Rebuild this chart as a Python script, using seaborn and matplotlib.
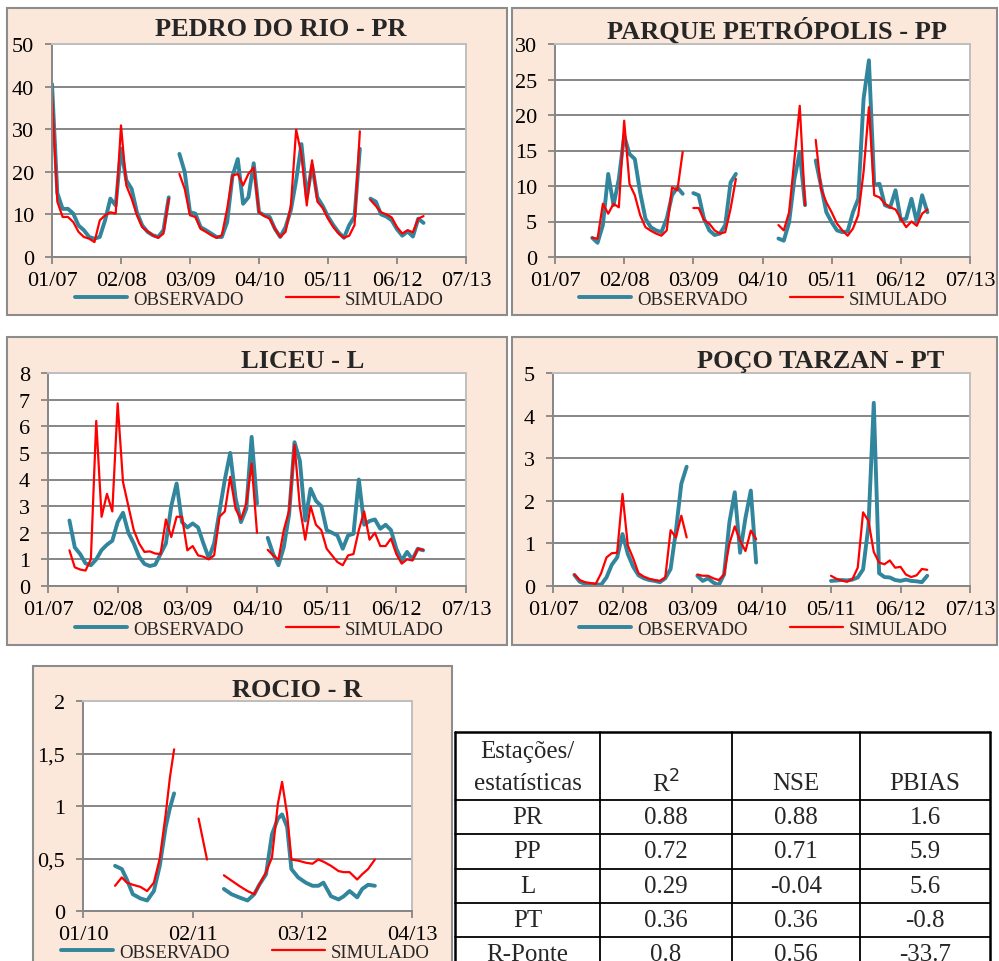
import numpy as np
import pandas as pd
import matplotlib
matplotlib.use("Agg")
import matplotlib.pyplot as plt
import seaborn as sns
from matplotlib.lines import Line2D
from matplotlib.patches import Rectangle

sns.set_theme(style="white")
plt.rcParams["font.family"] = ["Liberation Serif", "DejaVu Serif"]

nan = np.nan

# eixo x: meses contados a partir de 01/2007 (rocio: a partir de 01/2010)
meses = np.arange(0, 71)
ticks_x = [0, 13, 26, 39, 52, 65, 78]
rotulos_x = ["01/07", "02/08", "03/09", "04/10", "05/11", "06/12", "07/13"]

pr_obs = [40.6, 15.0, 11.3, 11.3, 10.2, 7.4, 6.3, 4.7, 4.3, 4.7, 8.6, 13.7, 12.1, 25.4, 18.0, 16.0, 10.5, 7.4,
          5.9, 5.1, 4.7, 6.3, 14.0, nan, 24.2, 20.0, 10.5, 10.2, 7.0, 6.3, 5.5, 4.7, 4.7, 8.2, 19.0, 23.0, 12.5,
          14.0, 22.0, 10.5, 9.8, 9.4, 6.6, 4.7, 7.0, 11.0, 18.0, 26.5, 14.0, 21.5, 14.0, 12.0, 9.5, 7.5, 5.8,
          4.5, 7.5, 9.5, 25.4, nan, 13.7, 13.0, 10.0, 9.5, 8.6, 6.5, 5.0, 6.0, 4.8, 9.0, 8.0]
pr_sim = [38.3, 13.0, 9.4, 9.4, 8.2, 5.9, 4.7, 4.3, 3.5, 8.6, 9.8, 10.5, 10.2, 30.9, 16.8, 13.7, 9.8, 7.0,
          6.0, 5.1, 4.5, 5.5, 13.7, nan, 19.5, 16.0, 9.8, 9.4, 6.6, 5.9, 5.1, 4.5, 5.1, 11.3, 19.1, 19.5, 16.8,
          19.5, 21.0, 10.5, 9.6, 9.0, 6.6, 4.7, 5.9, 12.0, 29.9, 24.0, 12.1, 22.7, 13.0, 11.5, 9.0, 7.0, 5.5,
          4.5, 5.0, 7.5, 29.5, nan, 13.4, 12.0, 10.5, 10.0, 9.3, 7.0, 5.5, 6.3, 5.8, 9.0, 9.6]

pp_obs = [nan, nan, nan, nan, nan, nan, nan, 2.7, 2.0, 4.5, 11.7, 7.3, 11.0, 17.1, 14.5, 13.8, 9.1, 5.4,
          4.2, 3.75, 3.5, 5.4, 8.7, 9.8, 8.9, nan, 9.0, 8.7, 5.4, 3.75, 3.1, 3.3, 4.5, 10.5, 11.7, nan, nan,
          nan, nan, nan, nan, nan, 2.6, 2.3, 4.9, 11.0, 14.8, 7.3, nan, 13.6, 10.0, 6.3, 4.9, 3.75, 3.5, 3.6,
          6.3, 8.2, 22.3, 27.7, 10.2, 10.3, 7.3, 7.0, 9.4, 5.2, 5.4, 8.2, 4.9, 8.7, 6.3]
pp_sim = [nan, nan, nan, nan, nan, nan, nan, 2.7, 2.6, 7.5, 6.1, 7.5, 7.0, 19.2, 10.3, 8.7, 5.9, 4.2,
          3.7, 3.3, 3.0, 3.75, 9.8, 9.4, 14.8, nan, 6.9, 6.9, 5.2, 4.7, 3.75, 3.3, 3.5, 6.8, 11.0, nan, nan,
          nan, nan, nan, nan, nan, 4.5, 3.75, 6.3, 13.8, 21.3, 7.3, nan, 16.5, 9.6, 7.7, 6.3, 4.7, 3.75, 3.0,
          4.0, 5.9, 12.0, 21.1, 8.7, 8.4, 7.5, 7.0, 6.7, 5.4, 4.2, 5.0, 4.4, 6.1, 6.7]

l_obs = [nan, nan, nan, nan, 2.46, 1.45, 1.2, 0.85, 0.78, 1.0, 1.35, 1.55, 1.7, 2.4, 2.75, 2.0, 1.6, 1.1,
         0.83, 0.75, 0.8, 1.2, 1.6, 3.0, 3.85, 2.4, 2.2, 2.35, 2.2, 1.6, 1.05, 1.6, 2.8, 4.0, 5.0, 3.3, 2.4,
         2.9, 5.6, 3.1, nan, 1.81, 1.21, 0.78, 1.46, 2.7, 5.4, 4.7, 2.46, 3.65, 3.2, 3.0, 2.1, 2.0, 1.9, 1.4,
         1.9, 1.96, 4.0, 2.3, 2.44, 2.5, 2.15, 2.3, 2.1, 1.4, 0.96, 1.28, 1.0, 1.4, 1.34]
l_sim = [nan, nan, nan, nan, 1.34, 0.7, 0.62, 0.58, 1.0, 6.2, 2.6, 3.46, 2.8, 6.86, 3.9, 3.0, 2.1, 1.6,
         1.28, 1.3, 1.22, 1.2, 2.5, 1.84, 2.6, 2.6, 1.34, 1.5, 1.15, 1.1, 1.0, 1.15, 2.6, 2.8, 4.1, 2.9, 2.5,
         3.1, 4.6, 2.0, nan, 1.36, 1.15, 0.99, 2.1, 2.84, 5.3, 2.96, 1.74, 3.0, 2.3, 2.1, 1.4, 1.15, 0.9, 0.78,
         1.15, 1.2, 2.1, 2.8, 1.74, 2.0, 1.5, 1.5, 1.78, 1.2, 0.84, 1.0, 0.96, 1.4, 1.36]

pt_obs = [nan, nan, nan, nan, 0.26, 0.1, 0.05, 0.04, 0.04, 0.03, 0.2, 0.5, 0.67, 1.22, 0.75, 0.45, 0.25,
          0.18, 0.14, 0.12, 0.09, 0.18, 0.4, 1.3, 2.4, 2.8, nan, 0.24, 0.12, 0.18, 0.08, 0.02, 0.27, 1.5, 2.2,
          0.78, 1.6, 2.24, 0.55, nan, nan, nan, nan, nan, nan, nan, nan, nan, nan, nan, nan, nan, 0.12, 0.13,
          0.14, 0.13, 0.15, 0.2, 0.39, 1.4, 4.3, 0.3, 0.21, 0.2, 0.14, 0.12, 0.15, 0.12, 0.11, 0.09, 0.24]
pt_sim = [nan, nan, nan, nan, 0.27, 0.14, 0.09, 0.07, 0.05, 0.3, 0.67, 0.77, 0.78, 2.16, 0.95, 0.65, 0.3,
          0.22, 0.17, 0.14, 0.12, 0.2, 1.31, 1.14, 1.65, 1.14, nan, 0.27, 0.24, 0.24, 0.18, 0.14, 0.27, 1.0,
          1.4, 1.06, 0.82, 1.3, 1.1, nan, nan, nan, nan, nan, nan, nan, nan, nan, nan, nan, nan, nan, 0.24,
          0.17, 0.13, 0.1, 0.16, 0.43, 1.73, 1.53, 0.8, 0.55, 0.51, 0.6, 0.43, 0.45, 0.27, 0.21, 0.25, 0.4, 0.38]

r_meses = [3.8, 4.6, 5.2, 5.9, 6.8, 7.6, 8.4, 9.1, 9.8, 10.3, 10.8, 12.2, 13.7, 14.7, 15.7, 16.7, 17.6,
           18.5, 19.5, 20.3, 20.9, 21.7, 22.4, 23.1, 23.6, 24.2, 24.7, 25.5, 26.4, 27.2, 27.9, 28.5, 29.4,
           30.3, 30.9, 31.6, 32.5, 33.1, 33.8, 34.6]
r_obs = [0.43, 0.4, 0.3, 0.16, 0.12, 0.1, 0.19, 0.43, 0.8, 0.98, 1.12, nan, nan, nan, nan, 0.21, 0.16,
         0.13, 0.1, 0.16, 0.25, 0.35, 0.73, 0.88, 0.92, 0.8, 0.4, 0.32, 0.27, 0.24, 0.24, 0.27, 0.14, 0.11,
         0.14, 0.19, 0.13, 0.21, 0.25, 0.24]
r_sim = [0.24, 0.32, 0.27, 0.25, 0.23, 0.19, 0.27, 0.5, 0.92, 1.27, 1.54, nan, 0.88, 0.49, nan, 0.34, 0.29,
         0.24, 0.19, 0.16, 0.25, 0.37, 0.51, 1.02, 1.23, 0.92, 0.49, 0.48, 0.46, 0.45, 0.49, 0.47, 0.43, 0.38,
         0.37, 0.37, 0.3, 0.35, 0.4, 0.49]
r_ticks_x = [0, 13, 26, 39]
r_rotulos_x = ["01/10", "02/11", "03/12", "04/13"]

# tabela de estatisticas
estacoes = ["PR", "PP", "L", "PT", "R-Ponte"]
r2 = [0.88, 0.72, 0.29, 0.36, 0.8]
nse = [0.88, 0.71, -0.04, 0.36, 0.56]
pbias = [1.6, 5.9, 5.6, -0.8, -33.7]

azul = "#31859C"
vermelho = "#FF0000"
pessego = "#FCE8DA"
cinza = "#868686"

W, H = 999, 962
fig = plt.figure(figsize=(W / 100, H / 100), dpi=100)

fundo = fig.add_axes([0, 0, 1, 1], zorder=-1)
fundo.set_xlim(0, W)
fundo.set_ylim(H, 0)
fundo.axis("off")


def px(x0, y0, x1, y1):
    return [x0 / W, 1 - y1 / H, (x1 - x0) / W, (y1 - y0) / H]


paineis = [
    dict(titulo="PEDRO DO RIO - PR", x=meses, obs=pr_obs, sim=pr_sim, ymax=50, passo=10,
         moldura=(7, 9, 507, 316), area=(52, 45, 466, 258), tit=(281, 30), leg=(259, 300)),
    dict(titulo="PARQUE PETRÓPOLIS - PP", x=meses, obs=pp_obs, sim=pp_sim, ymax=30, passo=5,
         moldura=(512, 9, 997, 316), area=(555, 45, 970, 258), tit=(777, 31), leg=(763, 300)),
    dict(titulo="LICEU - L", x=meses, obs=l_obs, sim=l_sim, ymax=8, passo=1,
         moldura=(7, 338, 507, 646), area=(48, 374, 466, 587), tit=(303, 362), leg=(259, 630)),
    dict(titulo="POÇO TARZAN - PT", x=meses, obs=pt_obs, sim=pt_sim, ymax=5, passo=1,
         moldura=(512, 338, 997, 646), area=(553, 374, 970, 587), tit=(821, 362), leg=(763, 630)),
    dict(titulo="ROCIO - R", x=r_meses, obs=r_obs, sim=r_sim, ymax=2, passo=0.5,
         moldura=(33, 667, 452, 990), area=(83, 702, 412, 912), tit=(297, 691), leg=(245, 953)),
]

handles = [Line2D([], [], color=azul, lw=2.8, solid_capstyle="round"),
           Line2D([], [], color=vermelho, lw=1.6)]

for p in paineis:
    x0, y0, x1, y1 = p["moldura"]
    fundo.add_patch(Rectangle((x0, y0), x1 - x0, y1 - y0, facecolor=pessego, edgecolor="#8C8C8C", lw=1.5))

    ax = fig.add_axes(px(*p["area"]))
    ax.set_facecolor("white")
    for serie, cor, lw in ((p["obs"], azul, 2.8), (p["sim"], vermelho, 1.6)):
        df = pd.DataFrame({"mes": p["x"], "valor": serie})
        df["trecho"] = df["valor"].isna().cumsum()
        df = df.dropna()
        sns.lineplot(data=df, x="mes", y="valor", units="trecho", estimator=None, color=cor, lw=lw,
                     solid_joinstyle="round", solid_capstyle="round", ax=ax)

    if p["titulo"].startswith("ROCIO"):
        ax.set_xlim(0, 39)
        ax.set_xticks(r_ticks_x, r_rotulos_x)
        yt = np.arange(0, p["ymax"] + 0.01, p["passo"])
        ax.set_yticks(yt, [f"{v:g}".replace(".", ",") for v in yt])
    else:
        ax.set_xlim(0, 78)
        ax.set_xticks(ticks_x, rotulos_x)
        ax.set_yticks(np.arange(0, p["ymax"] + 0.01, p["passo"]))
    ax.set_ylim(0, p["ymax"])
    ax.set_xlabel("")
    ax.set_ylabel("")
    ax.grid(axis="y", color=cinza, lw=1.4)
    ax.grid(axis="x", visible=False)
    ax.set_axisbelow(True)
    for lado in ("left", "bottom"):
        ax.spines[lado].set_color(cinza)
        ax.spines[lado].set_linewidth(1.4)
    for lado in ("top", "right"):
        ax.spines[lado].set_color("#BFBFBF")
        ax.spines[lado].set_linewidth(1.4)
    ax.tick_params(axis="both", which="major", bottom=True, left=True, direction="out", length=5,
                   width=1.3, color=cinza, labelsize=16, labelcolor="black")
    ax.tick_params(axis="y", pad=8)
    ax.tick_params(axis="x", pad=5)

    tx, ty = p["tit"]
    fig.text(tx / W, 1 - ty / H, p["titulo"], ha="center", va="center", fontsize=19, fontweight="bold")

    lx, ly = p["leg"]
    ax.legend(handles, ["OBSERVADO", "SIMULADO"], loc="center", bbox_to_anchor=(lx / W, 1 - ly / H),
              bbox_transform=fig.transFigure, ncol=2, frameon=False, fontsize=13.5, handlelength=2.8,
              handletextpad=0.3, columnspacing=2.3, borderpad=0, borderaxespad=0)

# tabela
colunas = [455, 600, 732, 860, 990]
linhas = [733, 801, 835, 870, 904, 938, 972]
for xc in colunas:
    fundo.plot([xc, xc], [linhas[0], linhas[-1]], color="black", lw=1.8 if xc in (455, 990) else 1.3)
for yl in linhas:
    fundo.plot([colunas[0], colunas[-1]], [yl, yl], color="black", lw=1.8 if yl == 733 else 1.3)

centros = [(a + b) / 2 for a, b in zip(colunas[:-1], colunas[1:])]
fundo.text(centros[0], 752, "Estações/", ha="center", va="center", fontsize=18)
fundo.text(centros[0], 784, "estatísticas", ha="center", va="center", fontsize=18)
for xc, rot in zip(centros[1:], ["R$^2$", "NSE", "PBIAS"]):
    fundo.text(xc, 784, rot, ha="center", va="center", fontsize=18)

for i, est in enumerate(estacoes):
    yc = (linhas[i + 1] + linhas[i + 2]) / 2
    for xc, val in zip(centros, [est, str(r2[i]), str(nse[i]), str(pbias[i])]):
        fundo.text(xc, yc, val, ha="center", va="center", fontsize=18)

fig.savefig("out.png", dpi=100)
